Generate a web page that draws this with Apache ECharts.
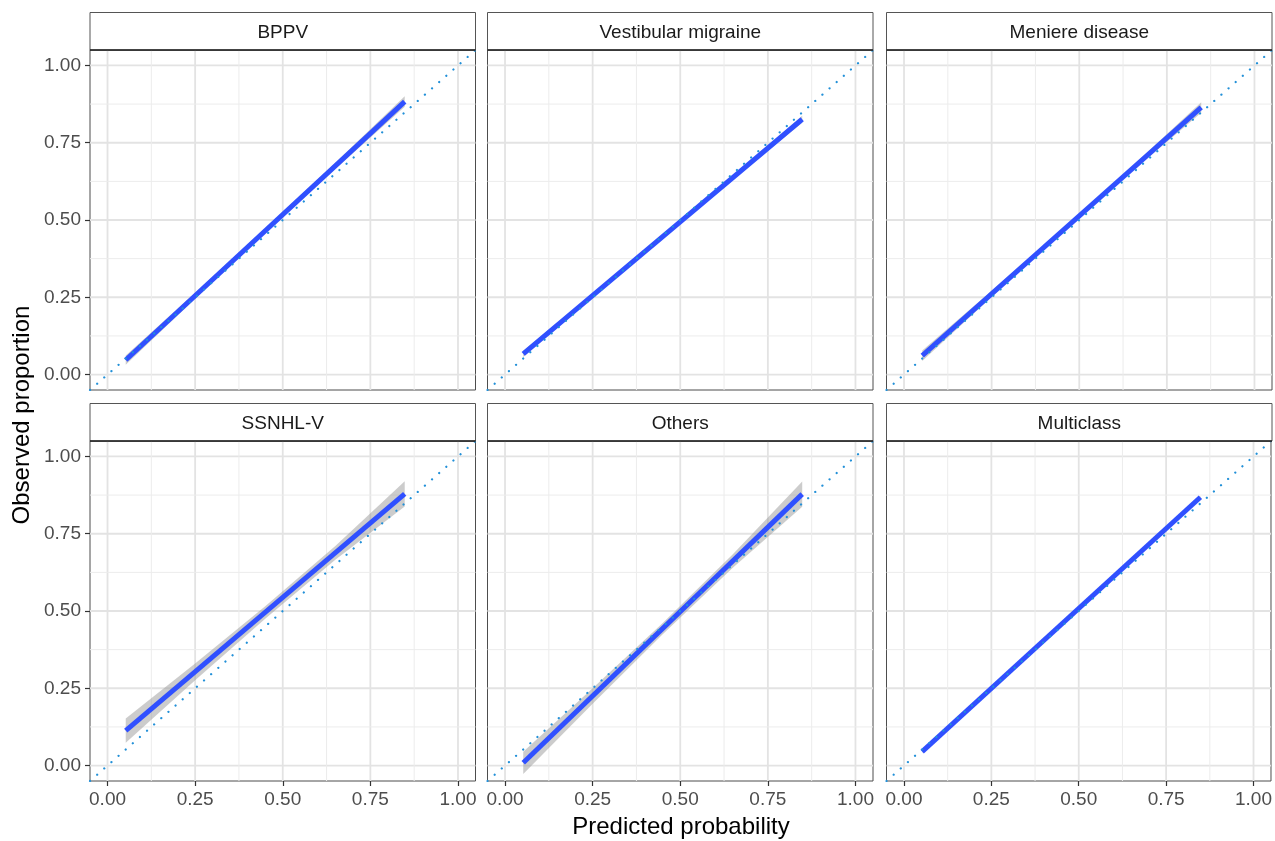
<!DOCTYPE html>
<html><head><meta charset="utf-8">
<script src="https://cdn.jsdelivr.net/npm/echarts@6/dist/echarts.min.js"></script>
<style>html,body{margin:0;padding:0;background:#fff}#c{width:1275px;height:841px}</style>
</head><body><div id="c"></div>
<script>
// ---- data ----
const panels = ["BPPV", "Vestibular migraine", "Meniere disease", "SSNHL-V", "Others", "Multiclass"];
const fitX = [0.052, 0.848];
const fitBPPV = [0.047, 0.883];
const fitVM = [0.067, 0.826];
const fitMD = [0.061, 0.864];
const fitSSNHL = [0.113, 0.879];
const fitOthers = [0.009, 0.878];
const fitMulti = [0.045, 0.868];
const bandX = [0.052, 0.25, 0.45, 0.65, 0.848];
const lowBPPV = [0.032, 0.245, 0.457, 0.665, 0.866];
const upBPPV = [0.062, 0.265, 0.473, 0.685, 0.900];
const lowVM = [0.057, 0.250, 0.441, 0.631, 0.815];
const upVM = [0.077, 0.262, 0.451, 0.643, 0.837];
const lowMD = [0.044, 0.251, 0.456, 0.657, 0.847];
const upMD = [0.078, 0.271, 0.470, 0.673, 0.881];
const lowSSNHL = [0.074, 0.276, 0.475, 0.666, 0.838];
const upSSNHL = [0.152, 0.330, 0.515, 0.710, 0.920];
const lowOthers = [-0.027, 0.200, 0.425, 0.640, 0.837];
const upOthers = [0.045, 0.250, 0.461, 0.684, 0.919];
const lowMulti = [0.041, 0.247, 0.454, 0.660, 0.864];
const upMulti = [0.049, 0.253, 0.460, 0.666, 0.872];
const majorTicks = [0, 0.25, 0.5, 0.75, 1];
const minorTicks = [0.125, 0.375, 0.625, 0.875];
const refLine = [-0.05, 1.05];
const xTitle = "Predicted probability";
const yTitle = "Observed proportion";

const fits = [fitBPPV, fitVM, fitMD, fitSSNHL, fitOthers, fitMulti];
const lows = [lowBPPV, lowVM, lowMD, lowSSNHL, lowOthers, lowMulti];
const ups = [upBPPV, upVM, upMD, upSSNHL, upOthers, upMulti];

// ---- layout ----
const FONT = "Liberation Sans, Arial, Helvetica, sans-serif";
const colLeft = [90, 487.5, 886.5];
const rowTop = [50, 441];
const W = 385.5, H = 340, STRIP = 37.5;

const grids = [], xAxes = [], yAxes = [], series = [], graphics = [];
panels.forEach((name, i) => {
  const col = i % 3, row = Math.floor(i / 3);
  const left = colLeft[col], top = rowTop[row];
  grids.push({left, top, width: W, height: H, show: true, backgroundColor: '#fff',
    borderColor: '#4d4d4d', borderWidth: 1, containLabel: false});
  xAxes.push({type: 'value', gridIndex: i, min: refLine[0], max: refLine[1], position: 'bottom',
    axisLine: {show: false, onZero: false}, splitLine: {show: false},
    axisTick: {show: row === 1, customValues: majorTicks, length: 5, lineStyle: {color: '#333', width: 1.2}},
    axisLabel: {show: row === 1, customValues: majorTicks, formatter: v => v.toFixed(2),
      fontSize: 19, color: '#4d4d4d', fontFamily: FONT, margin: 9}});
  yAxes.push({type: 'value', gridIndex: i, min: refLine[0], max: refLine[1], position: 'left',
    axisLine: {show: false, onZero: false}, splitLine: {show: false},
    axisTick: {show: col === 0, customValues: majorTicks, length: 5, lineStyle: {color: '#333', width: 1.2}},
    axisLabel: {show: col === 0, customValues: majorTicks, formatter: v => v.toFixed(2),
      fontSize: 19, color: '#4d4d4d', fontFamily: FONT, margin: 9}});
  // gridlines
  const gl = [];
  majorTicks.forEach(v => { gl.push([v, 'x', 1]); gl.push([v, 'y', 1]); });
  minorTicks.forEach(v => { gl.push([v, 'x', 0]); gl.push([v, 'y', 0]); });
  series.push({type: 'custom', xAxisIndex: i, yAxisIndex: i, z: 1, silent: true,
    data: gl.map(g => [g[0], g[0], g[1] === 'x' ? 0 : 1, g[2]]),
    renderItem: (params, api) => {
      const v = api.value(0), isY = api.value(2) === 1, major = api.value(3) === 1;
      const cs = params.coordSys;
      let shape;
      if (!isY) { const p = api.coord([v, 0]); shape = {x1: p[0], y1: cs.y, x2: p[0], y2: cs.y + cs.height}; }
      else { const p = api.coord([0, v]); shape = {x1: cs.x, y1: p[1], x2: cs.x + cs.width, y2: p[1]}; }
      return {type: 'line', shape, style: {stroke: major ? '#e3e3e3' : '#ececec', lineWidth: major ? 1.8 : 1}};
    }});
  // confidence band
  const lo = lows[i], up = ups[i];
  series.push({type: 'custom', xAxisIndex: i, yAxisIndex: i, z: 2, silent: true,
    data: [[bandX[0], lo[0]]],
    clip: true,
    renderItem: (params, api) => {
      const pts = [];
      bandX.forEach((x, k) => pts.push(api.coord([x, up[k]])));
      for (let k = bandX.length - 1; k >= 0; k--) pts.push(api.coord([bandX[k], lo[k]]));
      return {type: 'polygon', shape: {points: pts}, style: {fill: 'rgba(153,153,153,0.5)'}};
    }});
  // fitted line
  series.push({type: 'line', xAxisIndex: i, yAxisIndex: i, z: 3, silent: true, symbol: 'none',
    data: fitX.map((x, k) => [x, fits[i][k]]),
    lineStyle: {color: '#3050ff', width: 5, cap: 'butt'}});
  // reference diagonal
  series.push({type: 'line', xAxisIndex: i, yAxisIndex: i, z: 4, silent: true, symbol: 'none',
    data: refLine.map(v => [v, v]),
    lineStyle: {color: '#2290d8', width: 2.2, type: [0.1, 9.4], cap: 'round'}});
  // strip
  graphics.push({type: 'rect', z: 10, shape: {x: left, y: top - STRIP, width: W, height: STRIP},
    style: {fill: '#fff', stroke: '#555', lineWidth: 1}});
  graphics.push({type: 'line', z: 11, shape: {x1: left, y1: top, x2: left + W, y2: top},
    style: {stroke: '#222', lineWidth: 1.6}});
  graphics.push({type: 'text', z: 12, x: left + W / 2, y: top - STRIP / 2 + 1.5,
    style: {text: name, fontSize: 19, fill: '#1a1a1a', fontFamily: FONT, align: 'center', verticalAlign: 'middle'}});
});
graphics.push({type: 'text', x: 681, y: 827,
  style: {text: xTitle, fontSize: 24, fill: '#000', fontFamily: FONT, align: 'center', verticalAlign: 'middle'}});
graphics.push({type: 'text', x: 22, y: 415, rotation: Math.PI / 2,
  style: {text: yTitle, fontSize: 24, fill: '#000', fontFamily: FONT, align: 'center', verticalAlign: 'middle'}});

const chart = echarts.init(document.getElementById('c'), null, {renderer: 'canvas'});
chart.setOption({animation: false, backgroundColor: '#fff', grid: grids, xAxis: xAxes, yAxis: yAxes,
  series, graphic: graphics});
</script></body></html>
